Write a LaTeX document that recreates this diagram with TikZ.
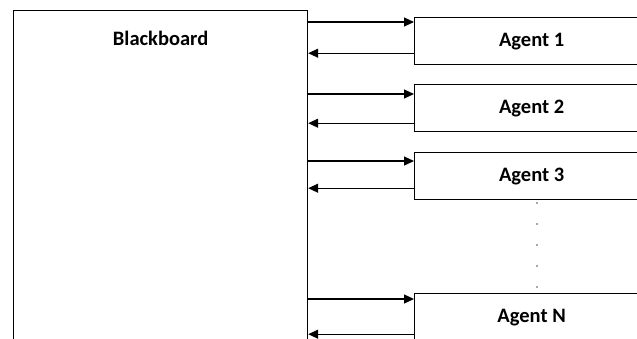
\documentclass[tikz,border=0pt]{standalone}
\usepackage{fontspec}
\setmainfont{Carlito}
\usetikzlibrary{arrows.meta,positioning}

\begin{document}
\begin{tikzpicture}[x=1pt,y=-1pt,line width=1.2pt,
  box/.style={draw,rectangle,inner sep=0pt,anchor=north west},
  title/.style={font=\fontsize{20.5}{24}\selectfont\bfseries},
  agent/.style={box,title,minimum width=234pt,minimum height=47pt},
  flow/.style={-{Triangle[length=10pt,width=9pt]}}]
\useasboundingbox (0,0) rectangle (637,338);
\clip (0,0) rectangle (637,338);
\node[box,minimum width=294pt,minimum height=360pt] (bb) at (13,10) {};
\node[title] (bbtitle) at ([yshift=-28pt]bb.north) {Blackboard};
\node[agent] (a1) at (414,17) {Agent 1};
\node[agent] (a2) at (414,84) {Agent 2};
\node[agent] (a3) at (414,152) {Agent 3};
\node[agent] (aN) at (414,293) {Agent N};
% write / read links between the board and each agent
\foreach \a/\fw/\bk in {a1/5/12,a2/10/9,a3/9/12,aN/6/7}{
  \coordinate (\a-in) at ([yshift=-\fw pt]\a.north west);
  \coordinate (\a-out) at ([yshift=\bk pt]\a.south west);
  \draw[flow] (bb.east |- \a-in) -- (\a-in);
  \draw[flow] (\a-out) -- (bb.east |- \a-out);}
\foreach \y in {203,224,...,288}
  \fill[gray!60!black] (537,\y) circle (0.8pt);
\end{tikzpicture}
\end{document}
